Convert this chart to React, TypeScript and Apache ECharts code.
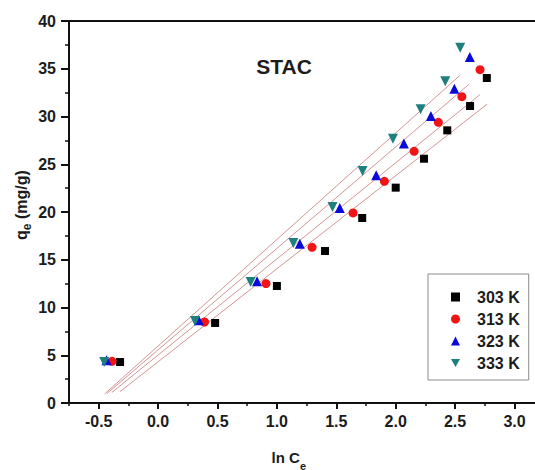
import React, { useEffect, useRef } from 'react';
import * as echarts from 'echarts';

// ---- data ----
const seriesNames = ['303 K', '313 K', '323 K', '333 K'];

const lnCe303 = [-0.32, 0.48, 1.0, 1.405, 1.718, 2.0, 2.238, 2.434, 2.626, 2.767];
const qe303 = [4.29, 8.38, 12.25, 15.92, 19.37, 22.55, 25.58, 28.55, 31.1, 34.03];

const lnCe313 = [-0.388, 0.391, 0.908, 1.296, 1.641, 1.905, 2.155, 2.359, 2.557, 2.71];
const qe313 = [4.36, 8.48, 12.5, 16.3, 19.9, 23.21, 26.35, 29.39, 32.08, 34.9];

const lnCe323 = [-0.434, 0.342, 0.833, 1.193, 1.529, 1.836, 2.069, 2.296, 2.494, 2.624];
const qe323 = [4.47, 8.66, 12.74, 16.68, 20.42, 23.84, 27.16, 30.05, 32.91, 36.23];

const lnCe333 = [-0.454, 0.31, 0.779, 1.138, 1.468, 1.721, 1.977, 2.21, 2.417, 2.543];
const qe333 = [4.29, 8.59, 12.67, 16.75, 20.52, 24.29, 27.68, 30.75, 33.68, 37.21];

// fitted straight lines (end points)
const fitX303 = [-0.32, 2.77];
const fitY303 = [1.2, 31.3];
const fitX313 = [-0.39, 2.71];
const fitY313 = [1.1, 32.3];
const fitX323 = [-0.43, 2.62];
const fitY323 = [1.0, 33.4];
const fitX333 = [-0.45, 2.54];
const fitY333 = [0.95, 34.3];

const xMajorTicks = [-0.5, 0, 0.5, 1, 1.5, 2, 2.5, 3];
const xMinorTicks = [-0.75, -0.25, 0.25, 0.75, 1.25, 1.75, 2.25, 2.75, 3.25];

const pts = (xs: number[], ys: number[]) => xs.map((x, i) => [x, ys[i]]);

const FONT = "'Liberation Sans', Arial, Helvetica, sans-serif";
const AXIS = '#111';
const TEXT = '#1c1c1c';
const FIT = '#d49494';
const DOWN_TRIANGLE = 'path://M0,0L10,0L5,8.66Z';

export default function App() {
  const ref = useRef<HTMLDivElement>(null);

  useEffect(() => {
    if (!ref.current) return;
    const chart = echarts.init(ref.current, undefined, { renderer: 'svg' });

    const scatterDefs = [
      { name: seriesNames[0], xs: lnCe303, ys: qe303, symbol: 'rect', size: 8, rot: 0, color: '#000000' },
      { name: seriesNames[1], xs: lnCe313, ys: qe313, symbol: 'circle', size: 9, rot: 0, color: '#f01414' },
      { name: seriesNames[2], xs: lnCe323, ys: qe323, symbol: 'triangle', size: 10, rot: 0, color: '#0a0ad8' },
      { name: seriesNames[3], xs: lnCe333, ys: qe333, symbol: 'triangle', size: 10, rot: 180, color: '#1f7f7f' },
    ];
    const fitDefs = [
      [fitX303, fitY303],
      [fitX313, fitY313],
      [fitX323, fitY323],
      [fitX333, fitY333],
    ];

    const series: any[] = [];
    fitDefs.forEach(([xs, ys], i) => {
      series.push({
        type: 'line',
        name: 'fit' + i,
        data: pts(xs, ys),
        symbol: 'none',
        silent: true,
        z: 1,
        lineStyle: { color: FIT, width: 1 },
      });
    });
    scatterDefs.forEach((d) => {
      series.push({
        type: 'scatter',
        name: d.name,
        data: pts(d.xs, d.ys),
        symbol: d.symbol,
        symbolSize: d.size,
        symbolRotate: d.rot,
        z: 3,
        itemStyle: { color: d.color, opacity: 1 },
      });
    });

    const labelStyle = { fontFamily: FONT, fontSize: 16, fontWeight: 'bold' as const, color: TEXT };

    chart.setOption({
      animation: false,
      backgroundColor: '#ffffff',
      grid: { left: 69, top: 21, width: 475.2, height: 382, containLabel: false },
      xAxis: [
        {
          type: 'value',
          position: 'bottom',
          min: -0.75,
          max: 3.25,
          axisLine: { show: true, onZero: false, lineStyle: { color: AXIS, width: 2 } },
          axisTick: { show: true, inside: false, length: 6, customValues: xMajorTicks, lineStyle: { color: AXIS, width: 2 } },
          axisLabel: {
            show: true,
            customValues: xMajorTicks,
            margin: 10,
            formatter: (v: number) => v.toFixed(1),
            ...labelStyle,
          },
          splitLine: { show: false },
          minorTick: { show: false },
        },
        {
          type: 'value',
          position: 'bottom',
          min: -0.75,
          max: 3.25,
          axisLine: { show: false, onZero: false },
          axisTick: { show: true, inside: false, length: 3, customValues: xMinorTicks, lineStyle: { color: AXIS, width: 1.5 } },
          axisLabel: { show: false },
          splitLine: { show: false },
        },
        {
          type: 'value',
          position: 'top',
          min: -0.75,
          max: 3.25,
          axisLine: { show: true, onZero: false, lineStyle: { color: AXIS, width: 2 } },
          axisTick: { show: false },
          axisLabel: { show: false },
          splitLine: { show: false },
        },
      ],
      yAxis: {
        type: 'value',
        min: 0,
        max: 40,
        interval: 5,
        axisLine: { show: true, onZero: false, lineStyle: { color: AXIS, width: 2 } },
        axisTick: { show: true, inside: false, length: 8, lineStyle: { color: AXIS, width: 2 } },
        minorTick: { show: true, splitNumber: 2, length: 4, lineStyle: { color: AXIS, width: 1.5 } },
        axisLabel: { margin: 13, ...labelStyle },
        splitLine: { show: false },
        minorSplitLine: { show: false },
      },
      legend: {
        data: [
          { name: seriesNames[0] },
          { name: seriesNames[1] },
          { name: seriesNames[2] },
          { name: seriesNames[3], icon: DOWN_TRIANGLE },
        ],
        orient: 'vertical',
        left: 428,
        top: 274,
        padding: [15, 9, 9, 23],
        itemWidth: 9,
        itemHeight: 9,
        itemGap: 6,
        borderColor: '#8c8c8c',
        borderWidth: 1,
        borderRadius: 0,
        backgroundColor: '#ffffff',
        selectedMode: false,
        formatter: '{t|{name}}',
        textStyle: {
          fontFamily: FONT,
          fontSize: 16,
          fontWeight: 'bold',
          color: TEXT,
          rich: {
            t: {
              fontFamily: FONT,
              fontSize: 16,
              fontWeight: 'bold',
              color: TEXT,
              padding: [0, 0, 0, 12],
            },
          },
        },
      },
      graphic: [
        {
          type: 'text',
          x: 284,
          y: 66.7,
          style: {
            text: 'STAC',
            fontFamily: FONT,
            fontSize: 21,
            fontWeight: 'bold',
            fill: TEXT,
            align: 'center',
            verticalAlign: 'middle',
          },
        },
        // x axis title: ln Ce
        {
          type: 'text',
          x: 271.5,
          y: 457.8,
          style: {
            text: 'ln C',
            fontFamily: FONT,
            fontSize: 15,
            fontWeight: 'bold',
            fill: TEXT,
            align: 'left',
            verticalAlign: 'middle',
          },
        },
        {
          type: 'text',
          x: 300,
          y: 465.5,
          style: {
            text: 'e',
            fontFamily: FONT,
            fontSize: 11,
            fontWeight: 'bold',
            fill: TEXT,
            align: 'left',
            verticalAlign: 'middle',
          },
        },
        // y axis title: qe (mg/g), rotated
        {
          type: 'group',
          x: 21.5,
          y: 240,
          rotation: Math.PI / 2,
          children: [
            {
              type: 'text',
              x: 0,
              y: 0,
              style: {
                text: 'q',
                fontFamily: FONT,
                fontSize: 16,
                fontWeight: 'bold',
                fill: TEXT,
                align: 'left',
                verticalAlign: 'middle',
              },
            },
            {
              type: 'text',
              x: 9.8,
              y: 5,
              style: {
                text: 'e',
                fontFamily: FONT,
                fontSize: 12,
                fontWeight: 'bold',
                fill: TEXT,
                align: 'left',
                verticalAlign: 'middle',
              },
            },
            {
              type: 'text',
              x: 16.5,
              y: 0,
              style: {
                text: ' (mg/g)',
                fontFamily: FONT,
                fontSize: 16,
                fontWeight: 'bold',
                fill: TEXT,
                align: 'left',
                verticalAlign: 'middle',
              },
            },
          ],
        },
      ],
      series,
    });

    return () => {
      chart.dispose();
    };
  }, []);

  return (
    <div
      style={{
        position: 'fixed',
        left: 0,
        top: 0,
        width: 535,
        height: 470,
        overflow: 'hidden',
        background: '#ffffff',
      }}
    >
      <div ref={ref} style={{ width: 560, height: 470 }} />
    </div>
  );
}
